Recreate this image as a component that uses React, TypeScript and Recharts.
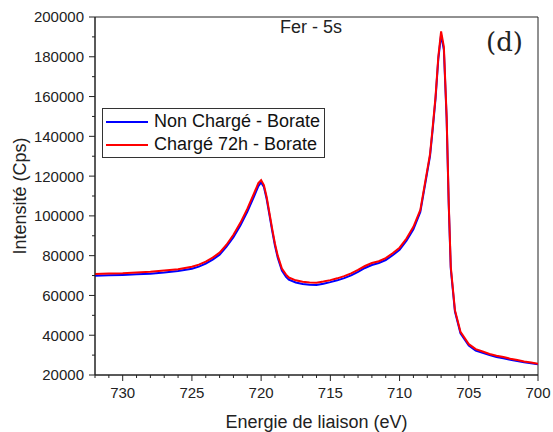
import { LineChart, Line, XAxis, YAxis, Legend, ReferenceArea } from 'recharts';

// binding energy (eV), descending
const energy = [
  732, 731, 730, 729, 728, 727, 726, 725, 724.5, 724, 723.5, 723, 722.5, 722, 721.5, 721,
  720.5, 720.2, 720, 719.8, 719.6, 719.4, 719.2, 719, 718.8, 718.5, 718.2, 718, 717.5, 717,
  716.5, 716, 715.5, 715, 714.5, 714, 713.5, 713, 712.5, 712, 711.5, 711, 710.5, 710, 709.5,
  709, 708.5, 708, 707.8, 707.6, 707.4, 707.2, 707, 706.8, 706.6, 706.45, 706.3, 706, 705.6,
  705, 704.5, 704, 703.5, 703, 702.5, 702, 701.5, 701, 700.5, 700,
];

const nonCharge = [
  69900, 70100, 70300, 70600, 70900, 71500, 72300, 73400, 74500, 76000, 78000, 80500, 84500, 89300, 95200, 102000,
  110000, 115000, 116800, 114500, 108500, 100500, 92500, 85000, 79000, 72500, 69300, 67900, 66500, 65800,
  65400, 65300, 65900, 66700, 67600, 68700, 70100, 71800, 73800, 75300, 76300, 77800, 80200, 83000, 87500,
  93300, 102000, 122000, 130000, 144000, 159000, 179000, 191000, 183500, 149000, 106000, 73400, 51900, 41000,
  34800, 32300, 31100, 30000, 29100, 28400, 27700, 27000, 26400, 25900, 25400,
];

const charge72h = [
  70800, 71000, 71100, 71500, 71900, 72500, 73200, 74400, 75500, 77000, 79000, 81500, 85500, 90500, 96500, 103500,
  111500, 116500, 118000, 115500, 109500, 101500, 93500, 86000, 80000, 73500, 70500, 69000, 67600, 66900,
  66500, 66400, 67000, 67700, 68600, 69700, 71100, 72800, 74800, 76300, 77200, 78800, 81200, 84000, 88600,
  94500, 103000, 123000, 131000, 145000, 160000, 180000, 192800, 185000, 150000, 107000, 74400, 52600, 41700,
  35500, 33000, 31800, 30600, 29700, 29000, 28200, 27500, 26800, 26300, 25700,
];

const xTicks = Array.from({ length: 33 }, (_, i) => 700 + i);
const yTicks = Array.from({ length: 19 }, (_, i) => 20000 + i * 10000);

const data = energy.map((e, i) => ({ e, blue: nonCharge[i], red: charge72h[i] }));

const FONT = '"Liberation Sans", Arial, sans-serif';
const INK = '#222';

function XTick({ x, y, payload }: any) {
  const major = payload.value % 5 === 0;
  return (
    <g>
      <line x1={x} x2={x} y1={y} y2={y + (major ? 6 : 3)} stroke={INK} strokeWidth={1} />
      {major && (
        <text x={x} y={y + 23} textAnchor="middle" fontSize={15} fontFamily={FONT} fill={INK}>
          {payload.value}
        </text>
      )}
    </g>
  );
}

function YTick({ x, y, payload }: any) {
  const major = payload.value % 20000 === 0;
  return (
    <g>
      <line x1={x} x2={x - (major ? 6 : 3)} y1={y} y2={y} stroke={INK} strokeWidth={1} />
      {major && (
        <text x={x - 11} y={y} dy="0.36em" textAnchor="end" fontSize={15} fontFamily={FONT} fill={INK}>
          {payload.value}
        </text>
      )}
    </g>
  );
}

function LegendBox() {
  const rows = [
    { label: 'Non Chargé - Borate', color: '#0000ff' },
    { label: 'Chargé 72h - Borate', color: '#ff0000' },
  ];
  return (
    <div
      style={{
        border: '1px solid #333',
        background: '#fff',
        width: 221,
        height: 47,
        boxSizing: 'content-box',
        fontFamily: FONT,
        fontSize: 18,
        color: '#111',
        paddingTop: 1,
      }}
    >
      {rows.map((r) => (
        <div key={r.label} style={{ display: 'flex', alignItems: 'center', height: 23, whiteSpace: 'nowrap' }}>
          <span style={{ display: 'inline-block', width: 42, height: 2, background: r.color, marginLeft: 3, marginRight: 6 }} />
          <span>{r.label}</span>
        </div>
      ))}
    </div>
  );
}

export default function App() {
  return (
    <div style={{ position: 'absolute', left: 0, top: 0, background: '#fff' }}>
      <LineChart width={553} height={432} data={data} margin={{ top: 17, right: 15, left: 0, bottom: 0 }}>
        <XAxis
          xAxisId="main"
          dataKey="e"
          type="number"
          domain={[700, 732]}
          reversed
          ticks={xTicks}
          interval={0}
          tick={<XTick />}
          tickLine={false}
          tickSize={0}
          tickMargin={0}
          height={57}
          stroke={INK}
          allowDataOverflow
        />
        <YAxis
          yAxisId="main"
          type="number"
          domain={[20000, 200000]}
          ticks={yTicks}
          interval={0}
          tick={<YTick />}
          tickLine={false}
          tickSize={0}
          tickMargin={0}
          width={95}
          stroke={INK}
          allowDataOverflow
        />
        <ReferenceArea
          xAxisId="main"
          yAxisId="main"
          x1={732}
          x2={700}
          y1={20000}
          y2={200000}
          fill="none"
          fillOpacity={0}
          stroke={INK}
          strokeWidth={1}
          ifOverflow="visible"
        />
        <Legend
          layout="vertical"
          align="center"
          verticalAlign="middle"
          content={<LegendBox />}
          wrapperStyle={{ left: 102, top: 108, width: 'auto' }}
        />
        <Line xAxisId="main" yAxisId="main" type="linear" dataKey="blue" name="Non Chargé - Borate" stroke="#0000ff" strokeWidth={2} dot={false} isAnimationActive={false} />
        <Line xAxisId="main" yAxisId="main" type="linear" dataKey="red" name="Chargé 72h - Borate" stroke="#ff0000" strokeWidth={2} dot={false} isAnimationActive={false} />
        <text x={280} y={33} fontSize={18} fontFamily={FONT} fill={INK}>Fer - 5s</text>
        <text x={486} y={51} fontSize={26} fontFamily='"DejaVu Serif", serif' fill={INK}>(d)</text>
        <text x={316.5} y={428} textAnchor="middle" fontSize={18} fontFamily={FONT} fill={INK}>Energie de liaison (eV)</text>
        <text x={26} y={196} textAnchor="middle" fontSize={18} fontFamily={FONT} fill={INK} transform="rotate(-90 26 196)">Intensité (Cps)</text>
      </LineChart>
    </div>
  );
}
